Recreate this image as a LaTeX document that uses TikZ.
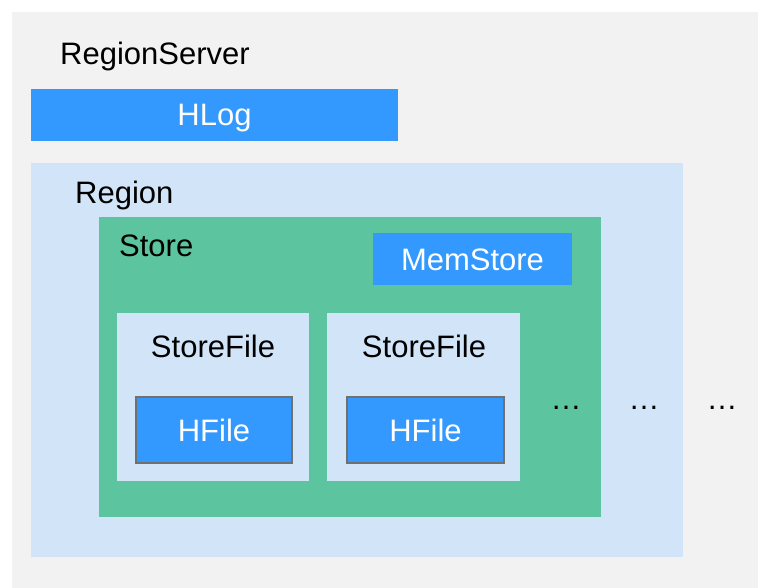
\documentclass[tikz,border=0pt]{standalone}
\usepackage{fontspec}
\setmainfont{Liberation Sans}
\definecolor{ServerGray}{HTML}{F2F2F2}
\definecolor{RegionBlue}{HTML}{D2E5F8}
\definecolor{StoreGreen}{HTML}{5CC49F}
\definecolor{BoxBlue}{HTML}{3399FF}
\definecolor{EdgeGray}{HTML}{707070}
\begin{document}
\begin{tikzpicture}[x=1pt,y=-1pt,
    area/.style={anchor=north west, inner sep=0pt, outer sep=0pt, draw=none},
    bluebox/.style={area, fill=BoxBlue, text=white, font=\fontsize{31}{37}\selectfont,
                    text height=22pt, text depth=0pt},
    txt/.style={inner sep=0pt, font=\fontsize{31}{37}\selectfont, text=black}]
    \useasboundingbox (0,0) rectangle (758,588);
    % containers
    \node[area, fill=ServerGray, minimum width=746pt, minimum height=576pt] (RegionServer) at (12,12) {};
    \node[area, fill=RegionBlue, minimum width=652pt, minimum height=394pt] (Region) at (31,163) {};
    \node[area, fill=StoreGreen, minimum width=502pt, minimum height=300pt] (Store) at (99,217) {};
    \node[area, fill=RegionBlue, minimum width=192pt, minimum height=168pt] (StoreFileA) at (117,313) {};
    \node[area, fill=RegionBlue, minimum width=193pt, minimum height=168pt] (StoreFileB) at (327,313) {};
    % blue boxes
    \node[bluebox, minimum width=367pt, minimum height=52pt] (HLog) at (31,89) {HLog};
    \node[bluebox, minimum width=199pt, minimum height=52pt] (MemStore) at (373,233) {MemStore};
    \node[bluebox, draw=EdgeGray, line width=1.5pt, minimum width=156pt, minimum height=66pt] (HFileA) at (136,397) {HFile};
    \node[bluebox, draw=EdgeGray, line width=1.5pt, minimum width=157pt, minimum height=66pt] (HFileB) at (347,397) {HFile};
    % labels
    \node[txt, anchor=base west] (RegionServerText) at (60,65) {RegionServer};
    \node[txt, anchor=base west] (RegionText) at (75,204) {Region};
    \node[txt, anchor=base west] (StoreText) at (119,257) {Store};
    \node[txt, anchor=base] (StoreFileAText) at (213,357) {StoreFile};
    \node[txt, anchor=base] (StoreFileBText) at (424,357) {StoreFile};
    % more stores, regions, ...
    \foreach \x/\n in {566/A, 644/B, 722/C}
        \node[txt, anchor=base] (More\n) at (\x,409) {…};
\end{tikzpicture}
\end{document}
